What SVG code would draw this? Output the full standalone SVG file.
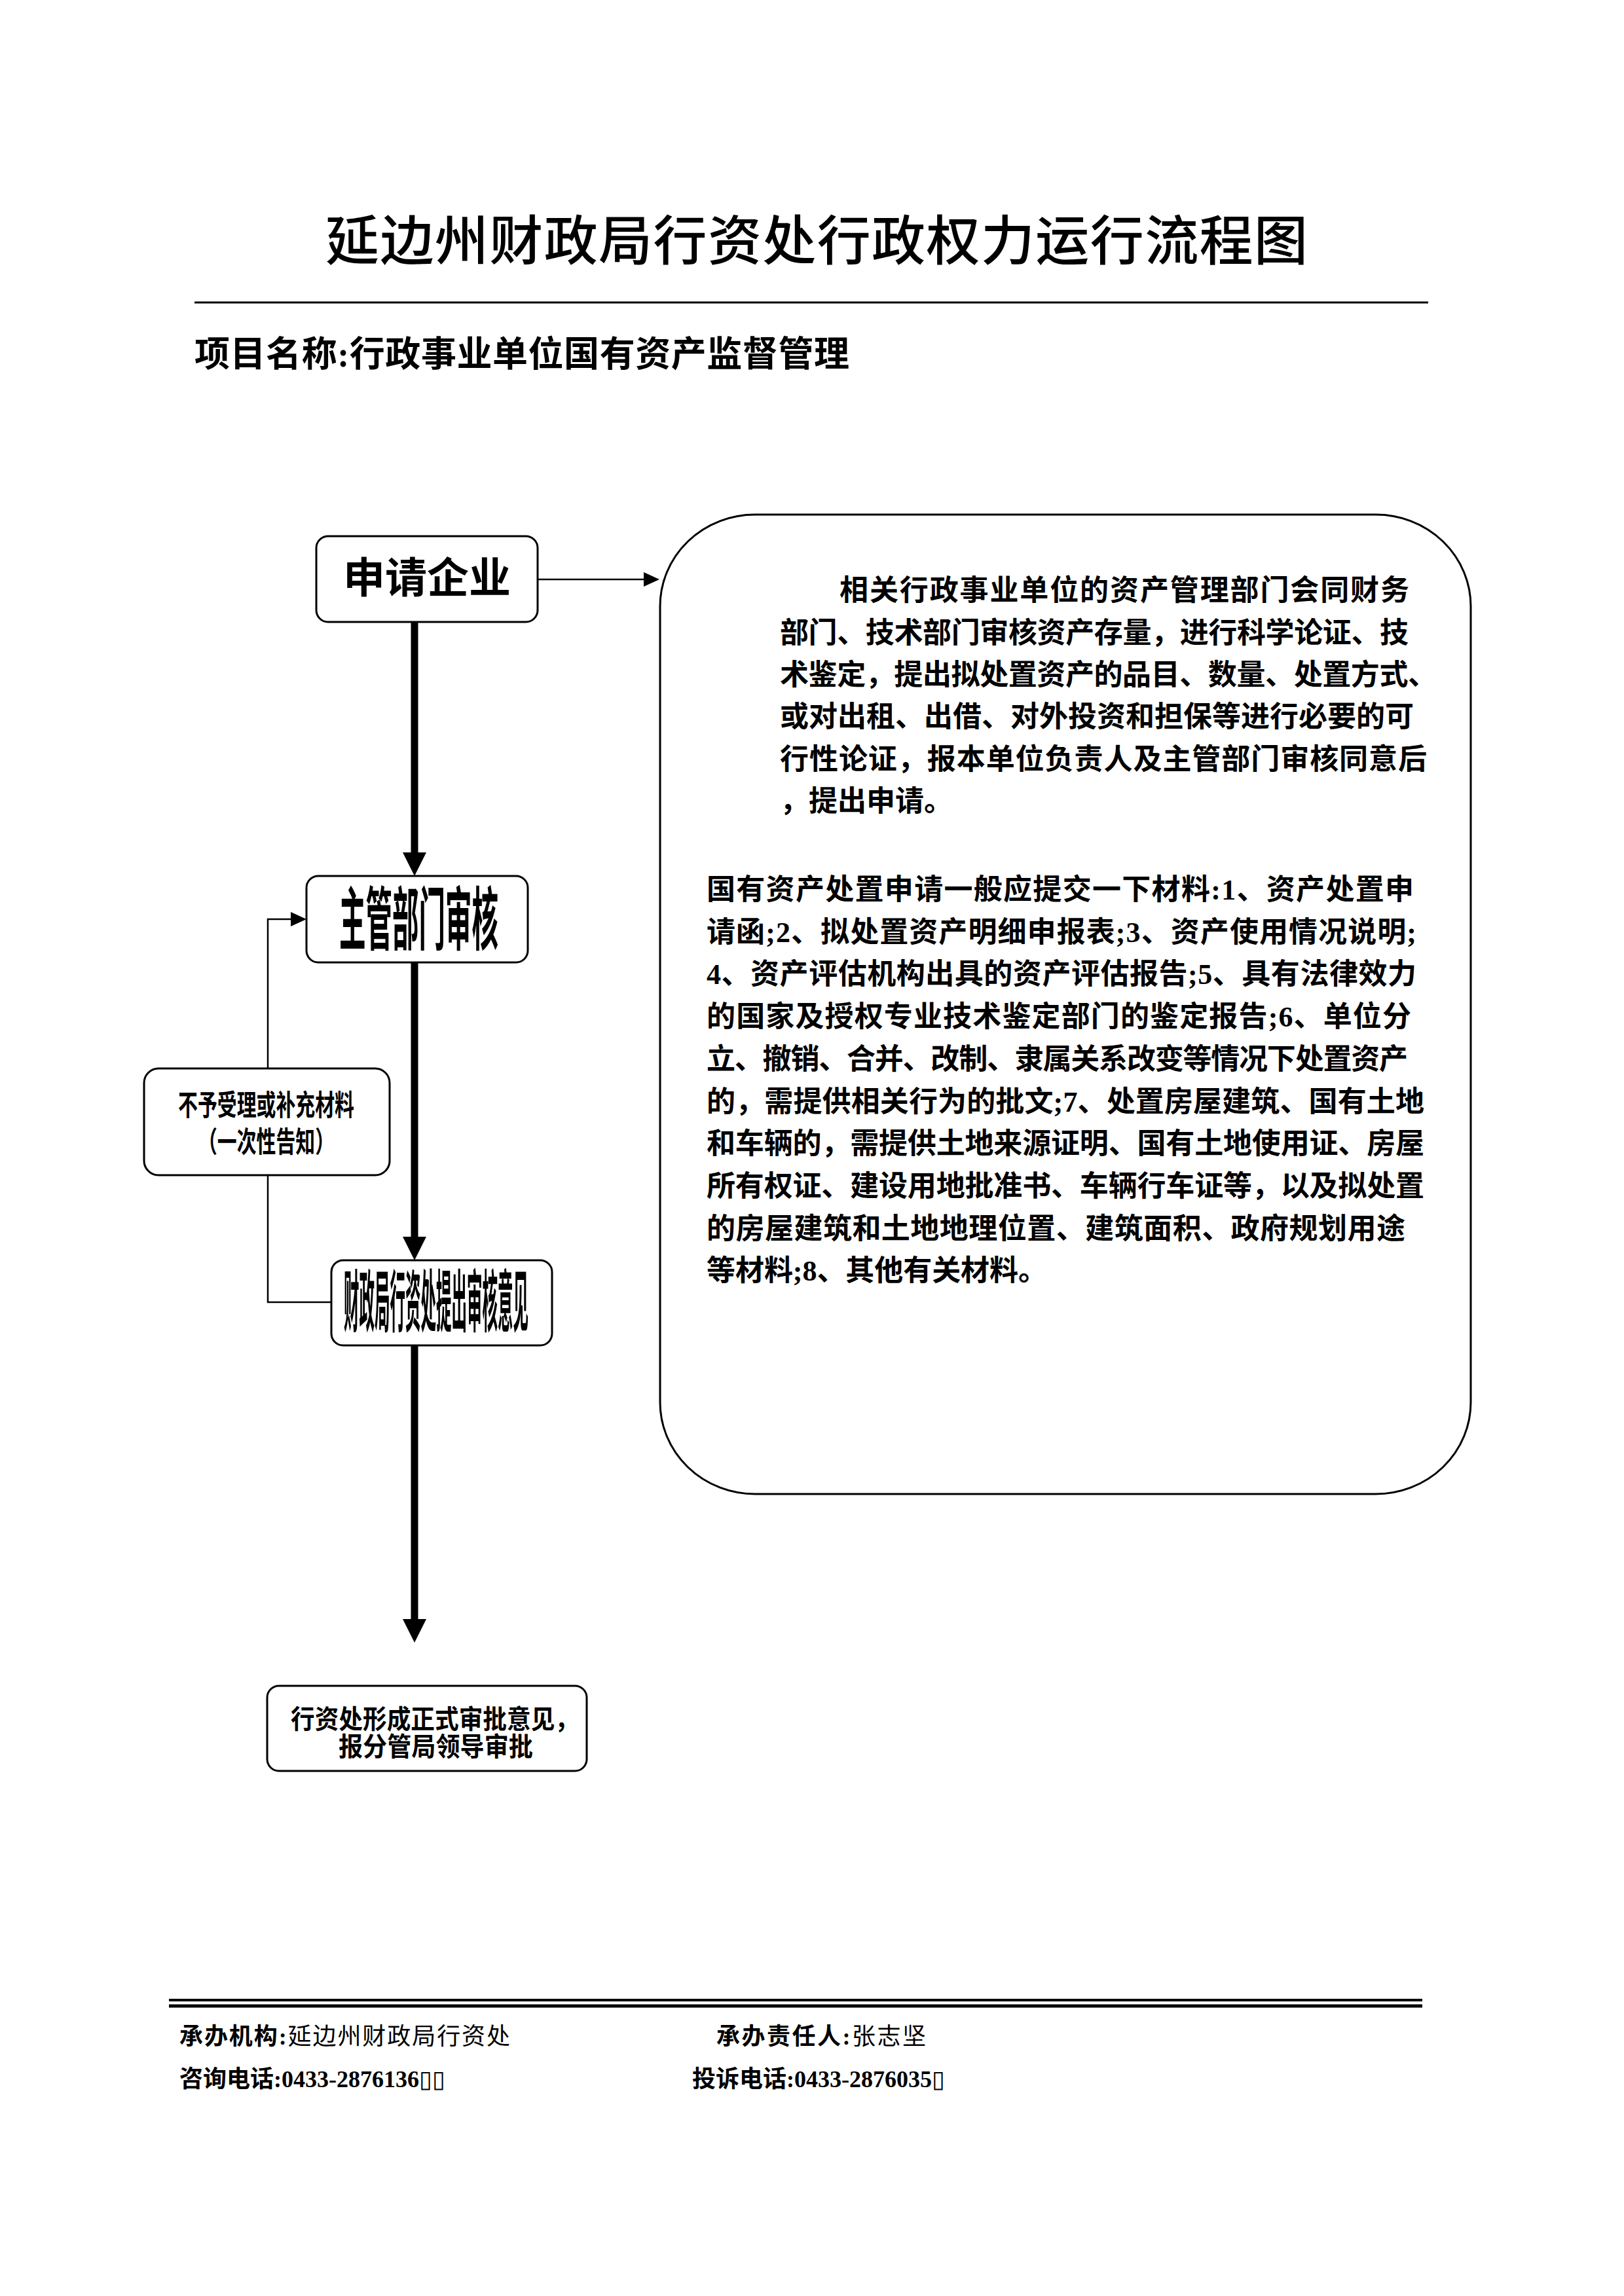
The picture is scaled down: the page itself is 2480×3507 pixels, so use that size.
<svg xmlns="http://www.w3.org/2000/svg" width="2480" height="3507" viewBox="0 0 2480 3507">
<defs>
<style>
.box{fill:#fff;stroke:#000;stroke-width:3}
.thin{fill:none;stroke:#000;stroke-width:2.5}
.thick{fill:none;stroke:#000;stroke-width:11}
.rule{stroke:#000;fill:none}
.t{font-family:'Liberation Serif','Noto Sans CJK SC',serif;fill:#000}
.s{font-family:'Noto Sans CJK SC',sans-serif;fill:#000}
.b{font-weight:bold}
.n{font-weight:normal}
.title{font-size:82px;font-weight:500}
.p{font-size:44px;font-weight:bold}
.f{font-size:36px}
</style>
<marker id="ah" markerUnits="userSpaceOnUse" markerWidth="24" markerHeight="22" refX="0" refY="11" orient="auto" viewBox="0 0 24 22"><path d="M0,0 L24,11 L0,22 z" fill="#000"/></marker>
<marker id="ahT" markerUnits="userSpaceOnUse" markerWidth="36" markerHeight="36" refX="0" refY="18" orient="auto" viewBox="0 0 36 36"><path d="M0,0 L36,18 L0,36 z" fill="#000"/></marker>
</defs>
<rect width="2480" height="3507" fill="#fff"/>

<g id="header">
<text class="s title" x="497" y="397" textLength="1500" lengthAdjust="spacing">延边州财政局行资处行政权力运行流程图</text>
<line class="rule" x1="297" y1="462" x2="2181" y2="462" stroke-width="3"/>
<text class="t b" x="297" y="560" font-size="54" textLength="1000" lengthAdjust="spacing">项目名称:行政事业单位国有资产监督管理</text>
</g>

<g id="connectors">
<line class="thin" x1="821" y1="885" x2="983" y2="885" marker-end="url(#ah)"/>
<line class="thick" x1="633" y1="950" x2="633" y2="1302" marker-end="url(#ahT)"/>
<line class="thick" x1="633" y1="1470" x2="633" y2="1889" marker-end="url(#ahT)"/>
<line class="thick" x1="633" y1="2055" x2="633" y2="2473" marker-end="url(#ahT)"/>
<polyline class="thin" points="506,1989 409,1989 409,1795"/>
<polyline class="thin" points="409,1632 409,1404 444,1404" marker-end="url(#ah)"/>
</g>

<g id="node-apply">
<rect class="box" x="483" y="819" width="338" height="131" rx="18" ry="18"/>
<text class="t b" x="652" y="905" font-size="64" text-anchor="middle">申请企业</text>
</g>

<g id="node-dept">
<rect class="box" x="468" y="1338" width="338" height="132" rx="18" ry="18"/>
<text class="t b" x="518" y="1442" font-size="105" textLength="243" lengthAdjust="spacingAndGlyphs">主管部门审核</text>
</g>

<g id="node-reject">
<rect class="box" x="220" y="1632" width="375" height="163" rx="22" ry="22"/>
<text class="t b" x="272" y="1704" font-size="44" textLength="269" lengthAdjust="spacingAndGlyphs">不予受理或补充材料</text>
<text class="t b" x="302" y="1760" font-size="44" textLength="209" lengthAdjust="spacingAndGlyphs">（一次性告知）</text>
</g>

<g id="node-finance">
<rect class="box" x="506" y="1925" width="337" height="130" rx="18" ry="18"/>
<text class="t b" x="525" y="2026" font-size="103" textLength="282" lengthAdjust="spacingAndGlyphs">财政局行资处提出审核意见</text>
</g>

<g id="node-final">
<rect class="box" x="408" y="2575" width="488" height="130" rx="18" ry="18"/>
<text class="t b" x="444" y="2640" font-size="40" textLength="440" lengthAdjust="spacingAndGlyphs">行资处形成正式审批意见，</text>
<text class="t b" x="517" y="2682" font-size="40" textLength="297" lengthAdjust="spacingAndGlyphs">报分管局领导审批</text>
</g>

<g id="node-materials">
<rect class="box" x="1008" y="786" width="1238" height="1496" rx="145" ry="140"/>
<text class="t p" x="1282" y="917" textLength="870" lengthAdjust="spacing">相关行政事业单位的资产管理部门会同财务</text>
<text class="t p" x="1191" y="982" textLength="960" lengthAdjust="spacing">部门、技术部门审核资产存量，进行科学论证、技</text>
<text class="t p" x="1191" y="1046" textLength="1003" lengthAdjust="spacing">术鉴定，提出拟处置资产的品目、数量、处置方式、</text>
<text class="t p" x="1191" y="1110" textLength="968" lengthAdjust="spacing">或对出租、出借、对外投资和担保等进行必要的可</text>
<text class="t p" x="1191" y="1175" textLength="988" lengthAdjust="spacing">行性论证，报本单位负责人及主管部门审核同意后</text>
<text class="t p" x="1191" y="1239">，提出申请。</text>

<text class="t p" x="1079" y="1374" textLength="1080" lengthAdjust="spacing">国有资产处置申请一般应提交一下材料:1、资产处置申</text>
<text class="t p" x="1079" y="1439" textLength="1084" lengthAdjust="spacing">请函;2、拟处置资产明细申报表;3、资产使用情况说明;</text>
<text class="t p" x="1079" y="1503" textLength="1084" lengthAdjust="spacing">4、资产评估机构出具的资产评估报告;5、具有法律效力</text>
<text class="t p" x="1079" y="1568" textLength="1076" lengthAdjust="spacing">的国家及授权专业技术鉴定部门的鉴定报告;6、单位分</text>
<text class="t p" x="1079" y="1633" textLength="1071" lengthAdjust="spacing">立、撤销、合并、改制、隶属关系改变等情况下处置资产</text>
<text class="t p" x="1079" y="1698" textLength="1096" lengthAdjust="spacing">的，需提供相关行为的批文;7、处置房屋建筑、国有土地</text>
<text class="t p" x="1079" y="1762" textLength="1096" lengthAdjust="spacing">和车辆的，需提供土地来源证明、国有土地使用证、房屋</text>
<text class="t p" x="1079" y="1827" textLength="1096" lengthAdjust="spacing">所有权证、建设用地批准书、车辆行车证等，以及拟处置</text>
<text class="t p" x="1079" y="1892" textLength="1067" lengthAdjust="spacing">的房屋建筑和土地地理位置、建筑面积、政府规划用途</text>
<text class="t p" x="1079" y="1956" textLength="520" lengthAdjust="spacing">等材料;8、其他有关材料。</text>
</g>

<g id="footer">
<line class="rule" x1="258" y1="3055" x2="2172" y2="3055" stroke-width="4"/>
<line class="rule" x1="258" y1="3064" x2="2172" y2="3064" stroke-width="5"/>
<text class="t f" x="274" y="3123" textLength="505" lengthAdjust="spacing"><tspan class="b">承办机构:</tspan><tspan class="n">延边州财政局行资处</tspan></text>
<text class="t f" x="1094" y="3123" textLength="320" lengthAdjust="spacing"><tspan class="b">承办责任人:</tspan><tspan class="n">张志坚</tspan></text>
<text class="t f" x="274" y="3188"><tspan class="b">咨询电话:0433-2876136</tspan><tspan class="n">▯▯</tspan></text>
<text class="t f" x="1057" y="3188"><tspan class="b">投诉电话:0433-2876035</tspan><tspan class="n">▯</tspan></text>
</g>
</svg>
